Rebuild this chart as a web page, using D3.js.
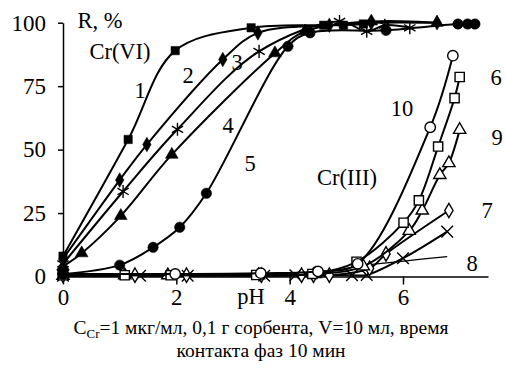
<!DOCTYPE html>
<html>
<head>
<meta charset="utf-8">
<script src="https://cdn.jsdelivr.net/npm/d3@7"></script>
<style>
  html, body { margin: 0; padding: 0; background: #fff; }
  svg { display: block; font-family: "Liberation Serif", "Times New Roman", serif; }
</style>
</head>
<body>
<svg id="chart" width="506" height="376"></svg>
<script>
// Cr(VI) series: [pH, R%]
const S1 = [[0, 8], [1.15, 54], [1.98, 89], [3.32, 98], [4.6, 99], [4.95, 99], [5.3, 99.5]];
const S2 = [[0, 7], [1.0, 38], [1.48, 52], [2.82, 85.5], [3.44, 96], [4.7, 99], [5.44, 100], [6.6, 100]];
const S3 = [[0, 5], [1.06, 33.5], [2.02, 58], [3.46, 88.7], [4.88, 100.5], [5.36, 96.6], [5.68, 99], [6.12, 98]];
const S4 = [[0, 4], [0.33, 9.2], [1.02, 23.9], [1.92, 48], [3.74, 88], [4.27, 96.6], [5.44, 100.5], [6.6, 100]];
const S5 = [[0, 1], [1.0, 4.5], [1.59, 11.5], [2.06, 19.4], [2.53, 32.8], [3.97, 90.7], [4.36, 96], [5.7, 97], [6.97, 99.5], [7.14, 99.5], [7.27, 99.5]];

// Cr(III) series
const S6 = [[0, 0.5], [1.09, 0.5], [1.9, 0.5], [3.41, 0.6], [4.4, 1], [5.18, 5.8], [6.01, 21.2], [6.28, 30], [6.62, 51.2], [6.91, 70.3], [7.0, 78.6]];
const S7 = [[0, 0.5], [1.27, 0.5], [2.18, 0.5], [3.5, 0.5], [4.21, 0.5], [4.42, 0.5], [4.7, 0.5], [5.41, 3.2], [5.7, 8.9], [6.81, 26]];
const S8 = [[0, 0.5], [4.5, 1.5], [5.2, 4], [6.78, 7.8]];
const S9 = [[0, 0.3], [1.09, 0.5], [1.85, 0.5], [3.45, 0.5], [4.45, 1], [5.3, 4], [6.11, 18], [6.34, 26], [6.65, 40], [6.81, 44.7], [7.0, 57.8]];
const S10 = [[0, 1], [1.98, 1], [3.49, 1.3], [4.5, 2], [5.2, 5], [6.48, 58.8], [6.88, 87]];
const SX = [[0, 0.3], [1.36, 0.3], [2.2, 0.3], [3.55, 0.3], [4.1, 0.5], [5.1, 0.5], [5.36, 0.6], [6.0, 7.2], [6.78, 17.7]];

const Y_TICKS = [0, 25, 50, 75, 100];
const X_TICKS = [0, 2, 4, 6];

const series = [
  { data: S8, sym: null, width: 1.2 },
  { data: SX, sym: d3.symbolTimes, fill: 'none', size: 90 },
  { data: S7, sym: d3.symbolDiamond, fill: '#fff', size: 60 },
  { data: S9, sym: d3.symbolTriangle, fill: '#fff', size: 65 },
  { data: S6, sym: d3.symbolSquare, fill: '#fff', size: 85 },
  { data: S10, sym: d3.symbolCircle, fill: '#fff', size: 85 },
  { data: S5, sym: d3.symbolCircle, fill: '#000', size: 85 },
  { data: S4, sym: d3.symbolTriangle, fill: '#000', size: 70 },
  { data: S3, sym: d3.symbolAsterisk, fill: 'none', size: 120 },
  { data: S2, sym: d3.symbolDiamond, fill: '#000', size: 62 },
  { data: S1, sym: d3.symbolSquare, fill: '#000', size: 70 },
];

const svg = d3.select('#chart');
svg.append('rect').attr('width', 506).attr('height', 376).attr('fill', '#fff');

const x = d3.scaleLinear().domain([0, 7.5]).range([63, 488]);
const y = d3.scaleLinear().domain([0, 100]).range([276.5, 22.7]);

// axes
const yAxis = svg.append('g').attr('transform', 'translate(63,0)')
  .call(d3.axisLeft(y).tickValues(Y_TICKS).tickSize(5).tickSizeOuter(0).tickPadding(12));
const xAxis = svg.append('g').attr('transform', `translate(0,${y(0)})`)
  .call(d3.axisBottom(x).tickValues(X_TICKS).tickSize(8).tickSizeOuter(0).tickPadding(4));
[yAxis, xAxis].forEach(a => {
  a.attr('font-family', '"Liberation Serif", serif');
  a.selectAll('.domain, line').attr('stroke', '#000').attr('stroke-width', 1.5);
  a.selectAll('text').attr('fill', '#000').attr('font-size', 23)
    .attr('font-family', '"Liberation Serif", serif');
});
xAxis.selectAll('.tick line').attr('y1', 0);

const line = d3.line().x(d => x(d[0])).y(d => y(d[1])).curve(d3.curveCatmullRom.alpha(0.5));

const g = svg.append('g');
for (const s of series) {
  g.append('path').attr('d', line(s.data)).attr('fill', 'none')
    .attr('stroke', '#000').attr('stroke-width', s.width || 2);
  if (!s.sym) continue;
  const open = s.fill === '#fff' || s.fill === 'none';
  g.selectAll(null).data(s.data).join('path')
    .attr('transform', d => `translate(${x(d[0])},${y(d[1])})`)
    .attr('d', d3.symbol(s.sym, s.size))
    .attr('fill', s.fill)
    .attr('stroke', '#000')
    .attr('stroke-width', open ? 1.4 : 0.5);
}

// annotations
const labels = [
  ['R, %', 100, 20], ['Cr(VI)', 120, 51], ['1', 140, 90], ['2', 188, 75], ['3', 237, 62],
  ['4', 228, 125], ['5', 250, 163], ['Cr(III)', 347, 177], ['10', 402, 108],
  ['6', 496, 77], ['9', 497, 137], ['7', 487, 210], ['8', 472, 263], ['pH', 251, 296],
];
svg.append('g').selectAll('text').data(labels).join('text')
  .attr('x', d => d[1]).attr('y', d => d[2]).attr('dy', '0.35em')
  .attr('text-anchor', 'middle').attr('font-size', 22.5).text(d => d[0]);

// caption
const cap = svg.append('text').attr('x', 261).attr('y', 334).attr('text-anchor', 'middle').attr('font-size', 19.5);
cap.append('tspan').text('C');
cap.append('tspan').attr('font-size', 13).attr('dy', 4).text('Cr');
cap.append('tspan').attr('dy', -4).text('=1 мкг/мл, 0,1 г сорбента, V=10 мл, время');
svg.append('text').attr('x', 261).attr('y', 357).attr('text-anchor', 'middle').attr('font-size', 19.5)
  .text('контакта фаз 10 мин');
</script>
</body>
</html>
